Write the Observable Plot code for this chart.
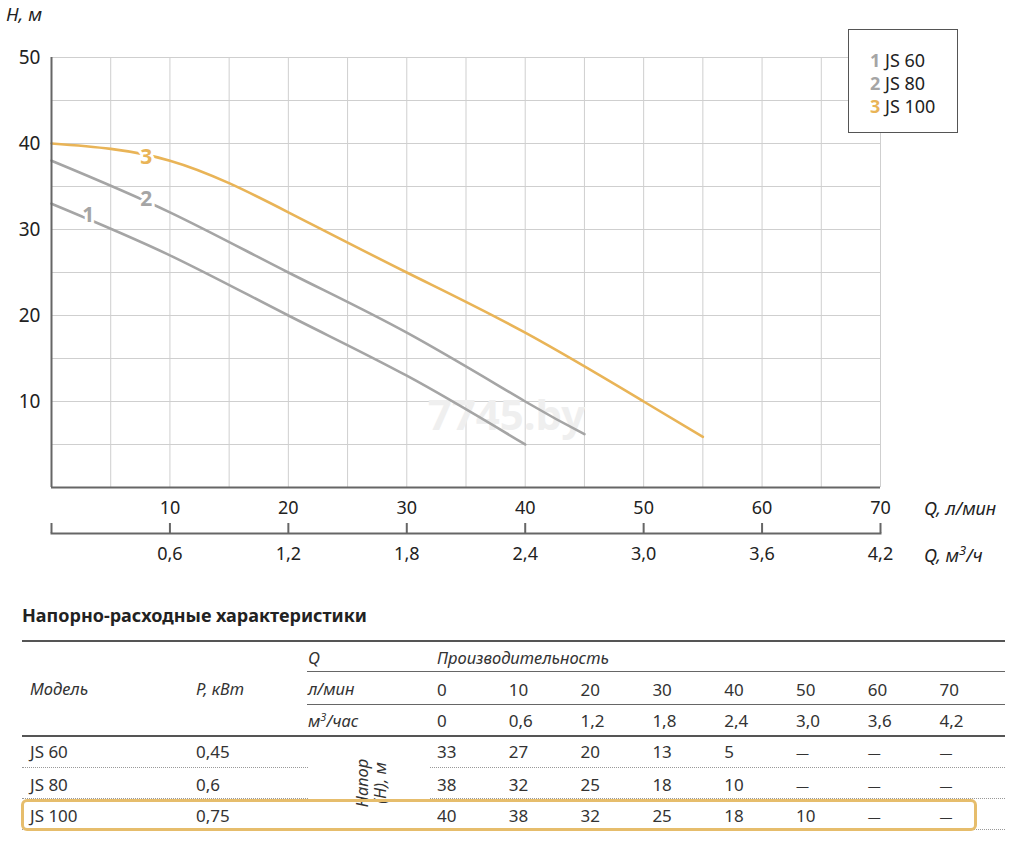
<!DOCTYPE html>
<html><head><meta charset="utf-8">
<script src="https://cdn.jsdelivr.net/npm/d3@7"></script>
<script src="https://cdn.jsdelivr.net/npm/@observablehq/plot@0.6"></script>
<style>
body{margin:0;background:#fff;font-family:"Noto Sans",sans-serif;color:#222;}
#root{position:relative;width:1010px;height:842px;overflow:hidden;}
.abs{position:absolute;white-space:nowrap;line-height:1;}
svg{position:absolute;left:0;}
</style></head><body><div id="root"></div>
<script>
// ---- data ----
const qLmin = [0, 10, 20, 30, 40, 50, 60, 70];
const qM3h = ["0", "0,6", "1,2", "1,8", "2,4", "3,0", "3,6", "4,2"];
const models = ["JS 60", "JS 80", "JS 100"];
const powerKW = ["0,45", "0,6", "0,75"];
const headJS60 = [33, 27, 20, 13, 5, null, null, null];
const headJS80 = [38, 32, 25, 18, 10, null, null, null];
const headJS100 = [40, 38, 32, 25, 18, 10, null, null];
// where each curve ends on the chart
const curveEndQ = [40, 45, 55];
const curveEndH = [5, 6.2, 5.9];
// curve number labels position
const labelNums = ["1", "2", "3"];
const labelQ = [3.1, 8.0, 8.0];
const labelH = [31.6, 33.5, 38.4];
const yTicks = [10, 20, 30, 40, 50];
const xTicks = [10, 20, 30, 40, 50, 60, 70];

const colors = ["#a5a5a5", "#a5a5a5", "#e9b457"];
const heads = [headJS60, headJS80, headJS100];

const series = [];
heads.forEach((hs, i) => {
  hs.forEach((h, j) => { if (h != null) series.push({model: models[i], q: qLmin[j], h}); });
  const last = series[series.length - 1];
  if (last.q !== curveEndQ[i]) series.push({model: models[i], q: curveEndQ[i], h: curveEndH[i]});
});
const labels = labelNums.map((n, i) => ({n, q: labelQ[i], h: labelH[i], c: colors[i]}));

const root = document.getElementById("root");
const font = '"Noto Sans", sans-serif';

const chart = Plot.plot({
  width: 1010, height: 520,
  marginLeft: 51, marginRight: 130, marginTop: 57, marginBottom: 33,
  x: {domain: [0, 70]}, y: {domain: [0, 50]},
  style: {fontFamily: font, fontSize: "17px", color: "#222", background: "transparent", overflow: "visible"},
  marks: [
    Plot.gridX(d3.range(5, 71, 5), {stroke: "#cfcfcf", strokeOpacity: 1, strokeWidth: 1}),
    Plot.gridY(d3.range(5, 51, 5), {stroke: "#cfcfcf", strokeOpacity: 1, strokeWidth: 1}),
    Plot.text(["7745.by"], {frameAnchor: "bottom-left", dx: 455, dy: -58, text: d => d, fontSize: 42, fontWeight: "bold", fill: "#efefef", textAnchor: "middle"}),
    Plot.line(series, {x: "q", y: "h", z: "model", stroke: "model", curve: "natural", strokeWidth: 2.6}),
    Plot.text(labels, {x: "q", y: "h", text: "n", fill: "c", stroke: "white", strokeWidth: 6, fontSize: 21, fontWeight: "bold"}),
    Plot.ruleX([0], {stroke: "#666", strokeWidth: 2}),
    Plot.ruleY([0], {stroke: "#666", strokeWidth: 2}),
    Plot.axisY(yTicks, {tickSize: 0, tickPadding: 11, fontSize: 19, label: null}),
    Plot.axisX(xTicks, {tickSize: 0, tickPadding: 14, fontSize: 18, label: null})
  ],
  color: {domain: models, range: colors}
});
chart.style.top = "0px";
root.appendChild(chart);

const axis2 = Plot.plot({
  width: 1010, height: 50,
  marginLeft: 51, marginRight: 130, marginTop: 3, marginBottom: 37,
  x: {domain: [0, 70]},
  style: {fontFamily: font, fontSize: "17px", color: "#222", background: "transparent", overflow: "visible"},
  marks: [
    Plot.tickX(qLmin, {x: d => d, stroke: "#666", strokeWidth: 2}),
    Plot.frame({anchor: "bottom", stroke: "#666", strokeWidth: 2}),
    Plot.axisX(qLmin.slice(1), {tickSize: 0, tickPadding: 14, fontSize: 18, label: null,
      tickFormat: d => qM3h[qLmin.indexOf(d)]})
  ]
});
axis2.style.top = "520px";
root.appendChild(axis2);

function txt(x, yc, html, css = "") {
  const d = document.createElement("div");
  d.className = "abs";
  d.style.cssText = `left:${x}px;top:${yc}px;transform:translateY(-50%);${css}`;
  d.innerHTML = html;
  root.appendChild(d);
  return d;
}
function line(x1, x2, y, css) {
  const d = document.createElement("div");
  d.className = "abs";
  d.style.cssText = `left:${x1}px;top:${y}px;width:${x2 - x1}px;height:0;${css}`;
  root.appendChild(d);
}

// axis titles
txt(6, 14, "H, м", "font-style:italic;font-size:18.5px;color:#222;");
txt(924, 508, "Q, л/мин", "font-style:italic;font-size:18px;color:#222;");
txt(924, 554, "Q, м<span style='font-size:13px;vertical-align:7px'>3</span>/ч", "font-style:italic;font-size:18px;color:#222;");

// legend
const lg = document.createElement("div");
lg.className = "abs";
lg.style.cssText = "left:848px;top:29px;width:108px;height:102px;border:1.5px solid #555;background:#fff;";
root.appendChild(lg);
[["1", models[0]], ["2", models[1]], ["3", models[2]]].forEach(([n, m], i) => {
  txt(870, 60 + i * 23, `<span style="color:${colors[i]};font-weight:bold">${n}</span> ${m}`, "font-size:18px;color:#222;");
});

// table
txt(22, 615, "Напорно-расходные характеристики", "font-weight:bold;font-size:18px;color:#222;");
line(22, 1005, 640, "border-top:2px solid #555;");
line(307, 1005, 671, "border-top:1.5px solid #666;");
line(307, 1005, 704, "border-top:1.5px solid #666;");
line(22, 1005, 735, "border-top:2px solid #555;");
[767, 798].forEach(y => { line(22, 308, y, "border-top:1.5px dotted #999;"); line(430, 1005, y, "border-top:1.5px dotted #999;"); });
line(22, 1005, 829, "border-top:1.5px dotted #999;");

const hdr = "font-style:italic;font-size:16.5px;color:#333;";
const cell = "font-size:17px;color:#333;";
txt(30, 689, "Модель", hdr);
txt(196, 689, "P, кВт", hdr);
txt(308, 658, "Q", hdr);
txt(437, 658, "Производительность", hdr);
txt(308, 689, "л/мин", hdr);
txt(308, 720, "м<span style='font-size:11px;vertical-align:6px'>3</span>/час", hdr);
const colX = qLmin.map((q, i) => 437 + i * 71.8);
qLmin.forEach((q, i) => txt(colX[i], 689, String(q), cell));
qM3h.forEach((q, i) => txt(colX[i], 720, q, cell));
const rowY = [751, 784, 815];
models.forEach((m, r) => {
  txt(30, rowY[r], m, cell);
  txt(196, rowY[r], powerKW[r], cell);
  heads[r].forEach((h, i) => txt(colX[i], rowY[r], h == null ? "<span style='font-size:13px'>—</span>" : String(h), cell));
});
// rotated label
const rot = document.createElement("div");
rot.className = "abs";
rot.style.cssText = "left:371px;top:783px;transform:translate(-50%,-50%) rotate(-90deg);font-style:italic;font-size:16.5px;color:#333;text-align:center;line-height:18px;";
rot.innerHTML = "Напор<br>(H), м";
root.appendChild(rot);
// highlight
const hl = document.createElement("div");
hl.className = "abs";
hl.style.cssText = "left:21px;top:799px;width:950px;height:26px;border:3px solid #e6bd6c;border-radius:6px;";
root.appendChild(hl);
</script>
</body></html>
